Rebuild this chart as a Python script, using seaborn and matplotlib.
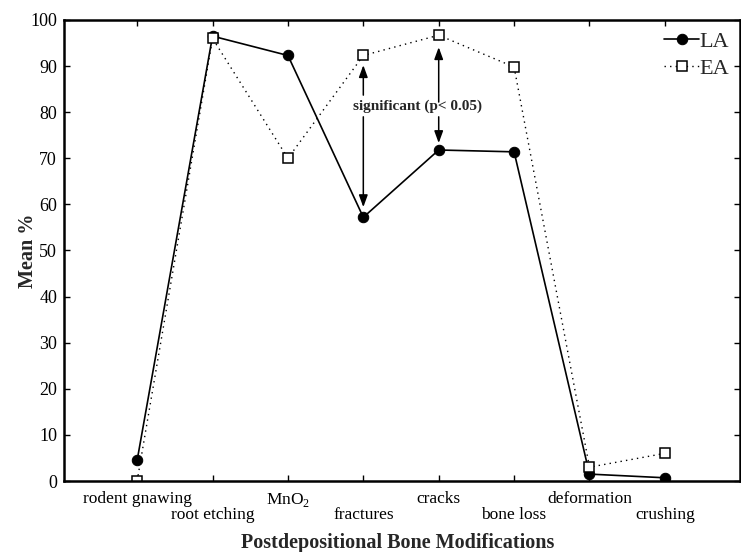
import matplotlib
matplotlib.use("Agg")
import matplotlib.pyplot as plt
import seaborn as sns
import pandas as pd
import numpy as np

categories = ["rodent gnawing", "root etching", "MnO$_2$", "fractures",
              "cracks", "bone loss", "deformation", "crushing"]
la_values = [4.5, 96.5, 92.3, 57.2, 71.8, 71.4, 1.5, 0.7]
ea_values = [0.0, 96.0, 70.0, 92.3, 96.7, 89.8, 3.0, 6.0]
y_ticks = [0, 10, 20, 30, 40, 50, 60, 70, 80, 90, 100]

sns.set_theme(style="ticks")
plt.rcParams['font.family'] = ['Liberation Serif', 'DejaVu Serif']
plt.rcParams['mathtext.fontset'] = 'custom'
plt.rcParams['mathtext.rm'] = 'Liberation Serif'

fig = plt.figure(figsize=(7.41, 5.52), dpi=100)
ax = fig.add_axes([0.0864, 0.1286, 0.9126, 0.8352])

pos = list(range(len(categories)))
df = pd.DataFrame({"pos": pos, "LA": la_values, "EA": ea_values})

sns.lineplot(data=df, x="pos", y="LA", ax=ax, color="black", linewidth=1.2,
             marker="o", markersize=7.5, markerfacecolor="black",
             markeredgecolor="black", label="LA")
sns.lineplot(data=df, x="pos", y="EA", ax=ax, color="black", linewidth=1.0,
             linestyle=(0, (1, 3)), marker="s", markersize=7.5,
             markerfacecolor="white", markeredgecolor="black",
             markeredgewidth=1.1, label="EA")

ax.set_xlim(-0.97, 8.0)
ax.set_ylim(0, 100)
ax.set_yticks(y_ticks)
ax.set_yticklabels([str(v) for v in y_ticks], fontsize=13)

even = [p for p in pos if p % 2 == 0]
odd = [p for p in pos if p % 2 == 1]
ax.set_xticks(even)
ax.set_xticklabels([categories[p] for p in even], fontsize=12.5)
ax.set_xticks(odd, minor=True)
ax.set_xticklabels([categories[p] for p in odd], minor=True, fontsize=12.5)

ax.tick_params(axis="both", which="both", direction="in", top=True, right=True,
               length=4, width=1, colors="black")
ax.tick_params(axis="x", which="major", pad=7)
ax.tick_params(axis="x", which="minor", pad=18.5)
ax.tick_params(axis="y", pad=5)
for s in ax.spines.values():
    s.set_linewidth(1.8)
    s.set_color("black")

ax.set_ylabel("Mean %", fontsize=14.5, fontweight="bold")
ax.yaxis.set_label_coords(-0.053, 0.5)
ax.set_xlabel("Postdepositional Bone Modifications", fontsize=14.5,
              fontweight="bold")
ax.xaxis.set_label_coords(0.494, -0.135)
ax.xaxis.label.set_va("center")
ax.yaxis.label.set_va("center")

# significance annotation
fi, ci = 3, 4
ax.text(3.72, 81.3, "significant (p< 0.05)", fontsize=11, fontweight="bold",
        ha="center", va="center")
arrow = dict(arrowstyle="-|>,head_length=0.6,head_width=0.22", color="black", lw=1.1,
             shrinkA=0, shrinkB=0)
ax.annotate("", xy=(fi, ea_values[fi] - 2.1), xytext=(fi, 83.7), arrowprops=arrow)
ax.annotate("", xy=(fi, la_values[fi] + 2.2), xytext=(fi, 79.0), arrowprops=arrow)
ax.annotate("", xy=(ci, ea_values[ci] - 2.6), xytext=(ci, 82.2), arrowprops=arrow)
ax.annotate("", xy=(ci, la_values[ci] + 1.5), xytext=(ci, 79.0), arrowprops=arrow)

leg = ax.legend(loc="upper right", frameon=False, fontsize=16, handlelength=1.6,
                handletextpad=0.0, borderaxespad=0.3, labelspacing=0.3,
                borderpad=0.2)

fig.savefig("out.png", dpi=100)
